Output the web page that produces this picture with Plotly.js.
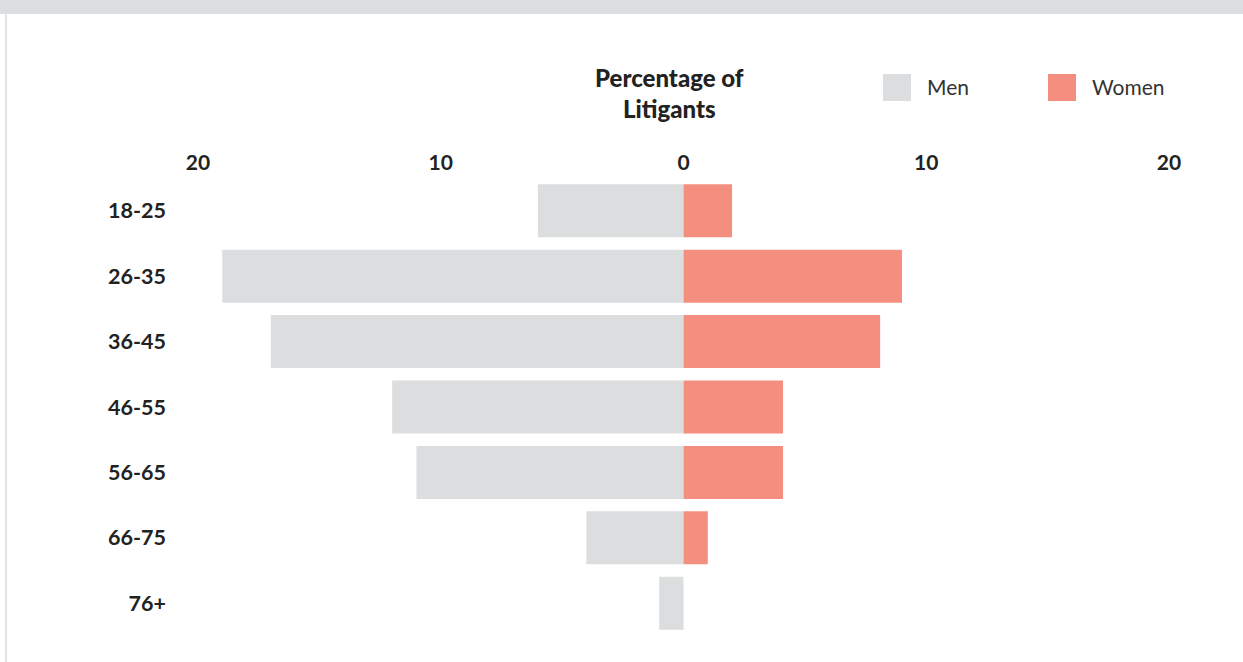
<!DOCTYPE html>
<html>
<head>
<meta charset="utf-8">
<script src="https://cdn.plot.ly/plotly-3.0.1.min.js"></script>
<style>
  html, body { margin: 0; padding: 0; width: 1243px; height: 662px; overflow: hidden; background: #ffffff; }
  #band { position: absolute; left: 0; top: 0; width: 1243px; height: 14px; background: #dcdddf; }
  #edge { position: absolute; left: 5px; top: 14px; width: 2px; height: 660px; background: #e4e4e6; }
  #chart { position: absolute; left: 0; top: 0; width: 1243px; height: 662px; }
</style>
</head>
<body>
<div id="band"></div>
<div id="edge"></div>
<div id="chart"></div>
<script>
// ---- data ----
const ageGroups = ["18-25", "26-35", "36-45", "46-55", "56-65", "66-75", "76+"];
const menPct    = [6, 19, 17, 12, 11, 4, 1];
const womenPct  = [2, 9, 8.1, 4.1, 4.1, 1, 0];
const seriesNames = ["Men", "Women"];
const tickValues = [-20, -10, 0, 10, 20];
const tickLabels = ["20", "10", "0", "10", "20"];
const titleText = "Percentage of<br>Litigants";

// ---- styling / layout ----
const W = 1243, H = 662;
const M = { l: 198, r: 74, t: 178, b: 26 };
const pw = W - M.l - M.r, ph = H - M.t - M.b;
const px = x => (x - M.l) / pw;
const py = y => (H - M.b - y) / ph;
const menColor = "#dcdddf", womenColor = "#f48e7e";
const font = "Lato, 'Open Sans', sans-serif";

const traces = [
  {
    type: "bar", orientation: "h", name: seriesNames[0],
    y: ageGroups, x: menPct.map(v => -v),
    marker: { color: menColor, line: { width: 0 } },
    hovertemplate: "%{y}: " + "%{customdata}%<extra>Men</extra>",
    customdata: menPct
  },
  {
    type: "bar", orientation: "h", name: seriesNames[1],
    y: ageGroups, x: womenPct,
    marker: { color: womenColor, line: { width: 0 } },
    hovertemplate: "%{y}: %{x}%<extra>Women</extra>"
  }
];

const layout = {
  width: W, height: H,
  margin: M,
  paper_bgcolor: "rgba(0,0,0,0)",
  plot_bgcolor: "rgba(0,0,0,0)",
  barmode: "relative",
  bargap: 0.19,
  showlegend: false,
  font: { family: font, color: "#222222" },
  xaxis: {
    side: "top",
    range: [-20, 20],
    tickvals: tickValues, ticktext: tickLabels,
    showgrid: false, zeroline: false, showline: false, ticks: "",
    tickfont: { family: font, size: 21, weight: 700, color: "#222222" },
    ticklabelstandoff: 3,
    fixedrange: true
  },
  yaxis: {
    autorange: "reversed",
    type: "category",
    showgrid: false, zeroline: false, showline: false, ticks: "",
    tickfont: { family: font, size: 21.5, weight: 700, color: "#222222" },
    ticklabelstandoff: 31,
    fixedrange: true
  },
  shapes: [
    { type: "rect", xref: "paper", yref: "paper", x0: px(883), x1: px(911), y0: py(101), y1: py(74), fillcolor: menColor, line: { width: 0 } },
    { type: "rect", xref: "paper", yref: "paper", x0: px(1048), x1: px(1076), y0: py(101), y1: py(74), fillcolor: womenColor, line: { width: 0 } }
  ],
  annotations: [
    { text: titleText, xref: "paper", yref: "paper", x: px(669), y: py(93), xanchor: "center", yanchor: "middle", showarrow: false,
      font: { family: font, size: 24, weight: 900, color: "#222222" } },
    { text: seriesNames[0], xref: "paper", yref: "paper", x: px(925), y: py(87), xanchor: "left", yanchor: "middle", showarrow: false,
      font: { family: font, size: 21, color: "#333333" } },
    { text: seriesNames[1], xref: "paper", yref: "paper", x: px(1090), y: py(87), xanchor: "left", yanchor: "middle", showarrow: false,
      font: { family: font, size: 21, color: "#333333" } }
  ]
};

Plotly.newPlot("chart", traces, layout, { displayModeBar: false });
</script>
</body>
</html>
